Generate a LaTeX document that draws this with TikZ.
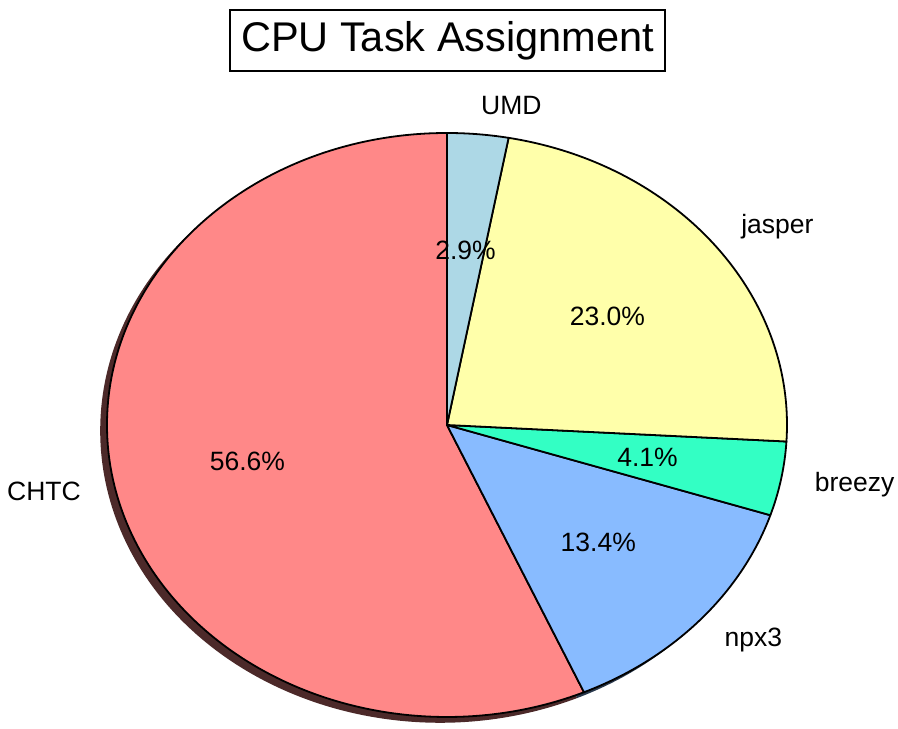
\documentclass[tikz,border=0pt]{standalone}
\usepackage{fontspec}
\setmainfont{Liberation Sans}
\usepackage{xcolor}
\usetikzlibrary{calc}
\definecolor{chtccol}{HTML}{FF8888}
\definecolor{npxcol}{HTML}{88BBFF}
\definecolor{breezycol}{HTML}{33FFC4}
\definecolor{jaspercol}{HTML}{FFFFAA}
\definecolor{umdcol}{HTML}{ADD8E6}
\tikzstyle{hostlabel} = [font=\fontsize{26.5}{30}\selectfont, inner sep=0pt]
\tikzstyle{share} = [font=\fontsize{26.5}{30}\selectfont, inner sep=0pt]
\tikzstyle{titlebox} = [draw, line width=1.2pt, minimum width=435pt, minimum height=61pt, font=\fontsize{41.5}{48}\selectfont]
\newcommand{\pieslice}[3]{\filldraw[fill=#3, line width=1.8pt, line join=round] (ctr) -- +(#1:340pt and 292pt) arc[start angle=#1, end angle=#2, x radius=340pt, y radius=292pt] -- cycle;}
\newcommand{\pieshadow}[3]{\fill[#3!30!black] ($(ctr)+(-6.8pt,-5.8pt)$) -- +(#1:340pt and 292pt) arc[start angle=#1, end angle=#2, x radius=340pt, y radius=292pt] -- cycle;}

\begin{document}
\begin{tikzpicture}[x=1pt,y=1pt]
  \useasboundingbox (0,0) rectangle (898,729);
  \coordinate (ctr) at (447,304);
  \node[titlebox] (title) at (447.5,688.5) {CPU Task Assignment};

  % shadows
  \pieshadow{90}{293.76}{chtccol}
  \pieshadow{293.76}{342}{npxcol}
  \pieshadow{342}{356.76}{breezycol}
  \pieshadow{356.76}{439.56}{jaspercol}
  \pieshadow{79.56}{90}{umdcol}

  % slices
  \pieslice{90}{293.76}{chtccol}
  \pieslice{293.76}{342}{npxcol}
  \pieslice{342}{356.76}{breezycol}
  \pieslice{356.76}{439.56}{jaspercol}
  \pieslice{79.56}{90}{umdcol}

  \node[hostlabel, anchor=east] (CHTC) at ($(ctr)+(191.88:374pt and 321.2pt)$) {CHTC};
  \node[hostlabel, anchor=west] (npx3) at ($(ctr)+(317.88:374pt and 321.2pt)$) {npx3};
  \node[hostlabel, anchor=west] (breezy) at ($(ctr)+(349.38:374pt and 321.2pt)$) {breezy};
  \node[hostlabel, anchor=west] (jasper) at ($(ctr)+(38.16:374pt and 321.2pt)$) {jasper};
  \node[hostlabel, anchor=west] (UMD) at ($(ctr)+(84.78:374pt and 321.2pt)$) {UMD};

  \node[share] (p_chtc) at ($(ctr)+(191.88:204pt and 175.2pt)$) {56.6\%};
  \node[share] (p_npx3) at ($(ctr)+(317.88:204pt and 175.2pt)$) {13.4\%};
  \node[share] (p_breezy) at ($(ctr)+(349.38:204pt and 175.2pt)$) {4.1\%};
  \node[share] (p_jasper) at ($(ctr)+(38.16:204pt and 175.2pt)$) {23.0\%};
  \node[share] (p_umd) at ($(ctr)+(84.78:204pt and 175.2pt)$) {2.9\%};
\end{tikzpicture}
\end{document}
